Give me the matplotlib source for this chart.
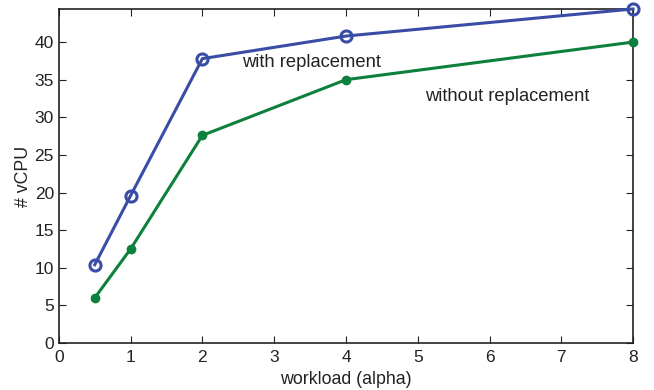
import matplotlib
matplotlib.use("Agg")
import matplotlib.pyplot as plt

plt.rcParams['font.family'] = ['Liberation Sans', 'DejaVu Sans']

alpha = [0.5, 1, 2, 4, 8]
with_repl = [10.4, 19.6, 37.8, 40.8, 44.4]
without_repl = [6.0, 12.5, 27.6, 35.0, 40.0]

fig = plt.figure(figsize=(6.54, 3.9), dpi=100)
ax = fig.add_axes([0.090, 0.1205, 0.878, 0.8565])

ax.plot(alpha, with_repl, color='#3a4da6', linewidth=2.2, marker='o',
        markersize=8, markerfacecolor='none', markeredgewidth=2.2, clip_on=False, zorder=3)
ax.plot(alpha, without_repl, color='#0e803d', linewidth=2.2, marker='o',
        markersize=6, clip_on=False, zorder=3)

ax.text(2.55, 37.3, 'with replacement', fontsize=13.2, va='center', color='#222222')
ax.text(5.1, 32.8, 'without replacement', fontsize=13.2, va='center', color='#222222')

ax.set_xlim(0, 8)
ax.set_ylim(0, 44.4)
ax.set_xticks(range(0, 9))
ax.set_yticks(range(0, 45, 5))
ax.tick_params(direction='in', top=True, right=True, labelsize=12.5, length=5,
               width=0.8, colors='#222222')
ax.tick_params(axis='x', pad=5)
for s in ax.spines.values():
    s.set_linewidth(1.2)
    s.set_color('#222222')

ax.set_xlabel('workload (alpha)', fontsize=12.8, color='#222222', labelpad=4)
ax.set_ylabel('# vCPU', fontsize=12.8, color='#222222', labelpad=2)

fig.savefig('out.png', dpi=100)
